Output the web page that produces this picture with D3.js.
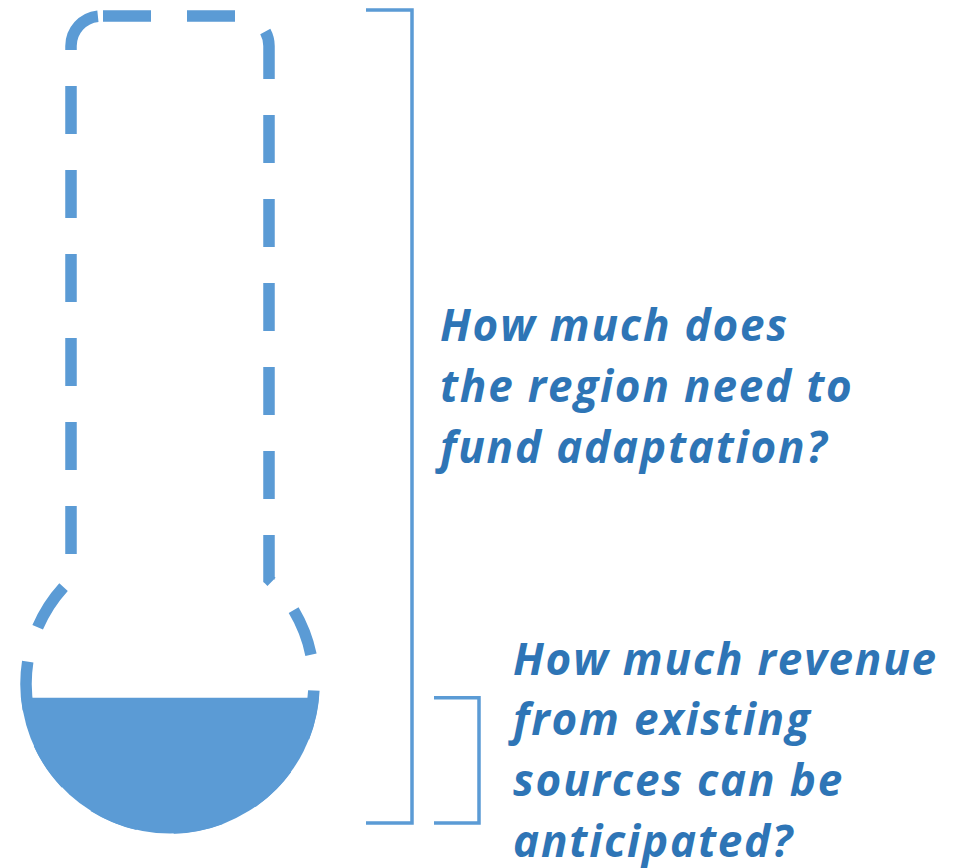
<!DOCTYPE html>
<html>
<head>
<meta charset="utf-8">
<script src="https://cdn.jsdelivr.net/npm/d3@7"></script>
<style>
  html, body { margin: 0; padding: 0; background: #fff; }
  svg { display: block; }
  .label { font-family: "Open Sans", sans-serif; font-weight: 700; font-style: italic; fill: #2e75b6; letter-spacing: 1.8px; }
</style>
</head>
<body>
<svg width="960" height="868"></svg>
<script>
// share of the total adaptation need (the full tube = 100)
const levelNames = ["need", "revenue"];
const levelValues = [100, 15.4];

const needLabel = ["How much does", "the region need to", "fund adaptation?"];
const revenueLabel = ["How much revenue", "from existing", "sources can be", "anticipated?"];

const blue = "#5b9bd5";
const svg = d3.select("svg");

// vertical scale: 0 at bottom of the bulb, 100 at top of the tube
const y = d3.scaleLinear().domain([0, 100]).range([823, 10]);

const need = levelValues[levelNames.indexOf("need")];
const revenue = levelValues[levelNames.indexOf("revenue")];

// thermometer geometry
const tubeL = 71, tubeR = 269, tubeTop = 16, corner = 30;
const cx = 170, cy = 684, r = 144;
const join = cy - Math.sqrt(r * r - (cx - tubeL) * (cx - tubeL));

// one closed outline, starting just right of the top-left corner
const outline = d3.path();
outline.moveTo(tubeL + corner + 2, tubeTop);
outline.lineTo(tubeR - corner, tubeTop);
outline.arcTo(tubeR, tubeTop, tubeR, tubeTop + corner, corner);
outline.lineTo(tubeR, join);
const a0 = Math.atan2(join - cy, tubeR - cx);
const a1 = Math.atan2(join - cy, tubeL - cx) + 2 * Math.PI;
outline.arc(cx, cy, r, a0, a1, false);
outline.lineTo(tubeL, tubeTop + corner);
outline.arcTo(tubeL, tubeTop, tubeL + corner, tubeTop, corner);
outline.closePath();

svg.append("path")
  .attr("d", outline.toString())
  .attr("fill", "none")
  .attr("stroke", blue)
  .attr("stroke-width", 11.5)
  .attr("stroke-dasharray", "48,36");

// liquid: circle segment below the revenue level
const R = r + 5.5;
const fillTop = y(revenue);
const dx = Math.sqrt(R * R - (fillTop - cy) * (fillTop - cy));
svg.append("path")
  .attr("d", `M${cx - dx},${fillTop} A${R},${R} 0 0,0 ${cx + dx},${fillTop} Z`)
  .attr("fill", blue);

// brackets
const brackets = [
  {x: 412, arm: 46, from: need, to: 0},
  {x: 479, arm: 45, from: revenue, to: 0}
];
svg.selectAll("path.bracket")
  .data(brackets)
  .enter().append("path")
    .attr("class", "bracket")
    .attr("d", d => `M${d.x - d.arm},${y(d.from)} H${d.x} V${y(d.to)} H${d.x - d.arm}`)
    .attr("fill", "none")
    .attr("stroke", blue)
    .attr("stroke-width", 3.5);

// labels
const addLabel = (lines, x, y0, step) => {
  svg.append("text")
    .attr("class", "label")
    .attr("font-size", 44)
    .selectAll("tspan")
    .data(lines)
    .enter().append("tspan")
      .attr("x", x)
      .attr("y", (d, i) => y0 + i * step)
      .text(d => d);
};
addLabel(needLabel, 440, 340.5, 61);
addLabel(revenueLabel, 513, 674.5, 60.8);
</script>
</body>
</html>
